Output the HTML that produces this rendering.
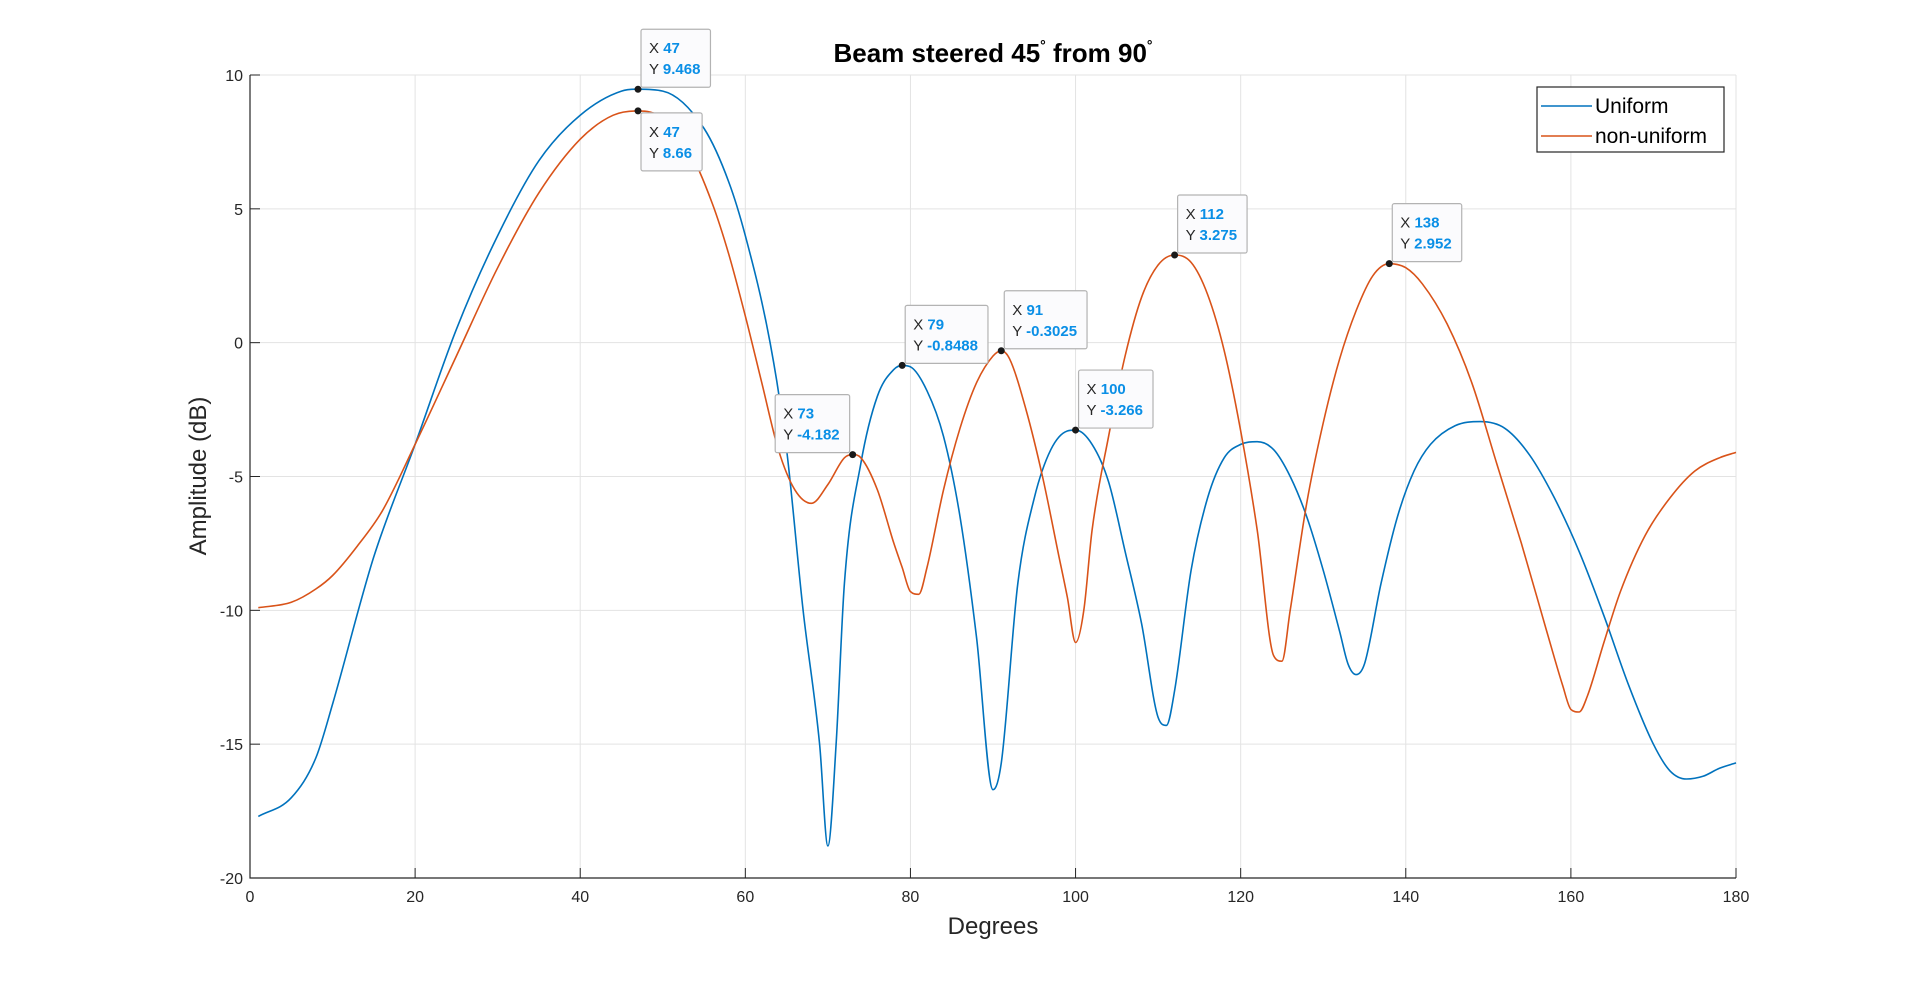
<!DOCTYPE html>
<html><head><meta charset="utf-8"><style>
html,body{margin:0;padding:0;background:#fff;}
svg{display:block;font-family:"Liberation Sans",sans-serif;}
</style></head><body>
<svg id="chart" width="1920" height="986" viewBox="0 0 1920 986">
<g id="grid"></g>
<g id="axes"></g>
<g id="series"></g>
<g id="tips"></g>
<text x="993" y="62" text-anchor="middle" font-size="26" font-weight="bold" fill="#000">Beam steered 45<tspan dy="-12" font-size="14">°</tspan><tspan dy="12"> from 90</tspan><tspan dy="-12" font-size="14">°</tspan></text>
<text x="993" y="934" text-anchor="middle" font-size="24" fill="#262626">Degrees</text>
<text transform="translate(206,476) rotate(-90)" text-anchor="middle" font-size="24" fill="#262626">Amplitude (dB)</text>
<g>
<rect x="1537" y="87" width="187" height="65" fill="#fff" stroke="#262626" stroke-width="1.2"/>
<g><line x1="1541" y1="106" x2="1592" y2="106" stroke="#0072BD" stroke-width="1.6"/><text x="1595" y="113" font-size="21" fill="#000">Uniform</text></g>
<g><line x1="1541" y1="136" x2="1592" y2="136" stroke="#D95319" stroke-width="1.6"/><text x="1595" y="143" font-size="21" fill="#000">non-uniform</text></g>
</g>
</svg>
<script>
const uniformX=[1,5,8,10,15,20,25,30,35,40,45,47,50,55,58,60,63,65,67,69,70,71,72,74,76,78,79,80,82,84,86,88,90,91,93,95,97,99,100,102,104,106,108,110,111,112,114,116,118,120,122,124,126,128,130,132,133,134,135,137,139,141,143,146,149,152,155,158,161,164,167,170,172,174,176,178,180];
const uniformY=[-17.7,-17,-15.5,-13.5,-8,-3.8,0.5,4,6.8,8.5,9.4,9.468,9.4,8,6,4,0,-4,-10,-15,-18.8,-15,-9,-4.5,-2,-1,-0.8488,-0.9,-1.8,-3.5,-6.5,-11,-16.7,-15.7,-9,-5.8,-4,-3.3,-3.266,-3.8,-5.2,-7.8,-10.5,-14,-14.3,-13,-8.5,-5.8,-4.3,-3.8,-3.7,-4,-5,-6.5,-8.5,-10.8,-12,-12.4,-12,-9,-6.5,-4.8,-3.8,-3.1,-2.95,-3.2,-4.2,-5.8,-7.8,-10.2,-12.8,-15,-16,-16.3,-16.2,-15.9,-15.7];
const nonUniformX=[1,5,8,10,13,16,20,25,30,35,40,44,47,50,53,56,58,60,62,64,66,68,70,72,73,74,76,78,79,80,81,82,84,86,88,90,91,92,94,96,98,99,100,101,102,104,106,108,110,112,114,116,118,120,122,124,125,126,128,130,132,134,136,138,140,142,145,148,151,154,157,159,160,161,162,164,166,169,172,175,178,180];
const nonUniformY=[-9.9,-9.7,-9.2,-8.7,-7.6,-6.3,-3.8,-0.5,2.8,5.6,7.6,8.5,8.66,8.4,7.3,5.2,3.3,1,-1.5,-4,-5.5,-6,-5.3,-4.3,-4.182,-4.3,-5.5,-7.5,-8.4,-9.3,-9.4,-8.4,-5.5,-3.2,-1.5,-0.5,-0.3025,-0.6,-2.5,-5,-8,-9.5,-11.2,-10,-7,-3.5,-0.5,1.7,2.9,3.275,3,1.8,-0.3,-3.3,-7,-11.7,-11.9,-10,-6,-3,-0.6,1.2,2.5,2.952,2.8,2.2,0.7,-1.5,-4.5,-7.5,-10.7,-12.8,-13.7,-13.8,-13.2,-11.2,-9.3,-7.2,-5.8,-4.8,-4.3,-4.1];
const xTicks=[0,20,40,60,80,100,120,140,160,180];
const yTicks=[-20,-15,-10,-5,0,5,10];
const tipX=[47,47,73,79,91,100,112,138];
const tipY=[9.468,8.66,-4.182,-0.8488,-0.3025,-3.266,3.275,2.952];
const tipLabel=['9.468','8.66','-4.182','-0.8488','-0.3025','-3.266','3.275','2.952'];
const tipPlace=['above','below','left','above','above','above','above','above'];

const X0=250,X1=1736,Y0=878,Y1=75;
const sx=v=>X0+(v-0)/(180-0)*(X1-X0);
const sy=v=>Y0-(v+20)/(30)*(Y0-Y1);
const NS='http://www.w3.org/2000/svg';
function mk(tag,attrs,parent){const e=document.createElementNS(NS,tag);for(const k in attrs)e.setAttribute(k,attrs[k]);parent.appendChild(e);return e;}
const grid=document.getElementById('grid'),axes=document.getElementById('axes'),series=document.getElementById('series'),tips=document.getElementById('tips');
xTicks.forEach(t=>{const x=sx(t);
 const g=mk('line',{x1:x,y1:Y1,x2:x,y2:Y0,stroke:'#e3e3e3','stroke-width':1},grid);
 
 
 const tk=mk('line',{x1:x,y1:Y0,x2:x,y2:Y0-10,stroke:'#262626','stroke-width':1},axes);
 
 
 const tl=mk('text',{x:x,y:Y0+24,'text-anchor':'middle','font-size':16,fill:'#262626'},axes);tl.textContent=t;
 
 
});
yTicks.forEach(t=>{const y=sy(t);
 const g=mk('line',{x1:X0,y1:y,x2:X1,y2:y,stroke:'#e3e3e3','stroke-width':1},grid);
 
 
 const tk=mk('line',{x1:X0,y1:y,x2:X0+10,y2:y,stroke:'#262626','stroke-width':1},axes);
 
 
 const tl=mk('text',{x:X0-7,y:y+6,'text-anchor':'end','font-size':16,fill:'#262626'},axes);tl.textContent=t;
 
 
});
const ax=mk('path',{d:`M${X0} ${Y1}V${Y0}H${X1}`,fill:'none',stroke:'#262626','stroke-width':1.2},axes);


function monoPath(px,py){
 const n=px.length,d=[],m=[];
 for(let i=0;i<n-1;i++)d.push((py[i+1]-py[i])/(px[i+1]-px[i]));
 m[0]=d[0];m[n-1]=d[n-2];
 for(let i=1;i<n-1;i++){m[i]=(d[i-1]*d[i]<=0)?0:(d[i-1]+d[i])/2;}
 for(let i=0;i<n-1;i++){if(d[i]===0){m[i]=0;m[i+1]=0;continue;}
  const a=m[i]/d[i],b=m[i+1]/d[i],s=a*a+b*b;if(s>9){const t=3/Math.sqrt(s);m[i]=t*a*d[i];m[i+1]=t*b*d[i];}}
 let p='M'+px[0].toFixed(1)+' '+py[0].toFixed(1);
 for(let i=0;i<n-1;i++){const h=(px[i+1]-px[i])/3;
  p+=`C${(px[i]+h).toFixed(1)} ${(py[i]+m[i]*h).toFixed(1)} ${(px[i+1]-h).toFixed(1)} ${(py[i+1]-m[i+1]*h).toFixed(1)} ${px[i+1].toFixed(1)} ${py[i+1].toFixed(1)}`;}
 return p;
}
function line(xs,ys,color,name){
 const p=mk('path',{d:monoPath(xs.map(sx),ys.map(sy)),fill:'none',stroke:color,'stroke-width':1.6,'stroke-linejoin':'round'},series);
 
 
}
line(uniformX,uniformY,'#0072BD','uniform-line');
line(nonUniformX,nonUniformY,'#D95319','non-uniform-line');
tipX.forEach((tx,i)=>{
 const px=sx(tx),py=sy(tipY[i]);
 const g=mk('g',{},tips);
 
 
 const r=mk('rect',{rx:2,fill:'#fbfbfd',stroke:'#b3b3b3','stroke-width':1.2},g);
 const t1=mk('text',{'font-size':15,fill:'#262626'},g);
 t1.innerHTML='X <tspan fill="#0a8fe6" font-weight="bold">'+tx+'</tspan>';
 const t2=mk('text',{'font-size':15,fill:'#262626'},g);
 t2.innerHTML='Y <tspan fill="#0a8fe6" font-weight="bold">'+tipLabel[i]+'</tspan>';
 const w=Math.max(t1.getComputedTextLength(),t2.getComputedTextLength())+18,h=58;
 let bx,by;
 if(tipPlace[i]==='above'){bx=px+3;by=py-2-h;}
 else if(tipPlace[i]==='below'){bx=px+3;by=py+2;}
 else{bx=px-3-w;by=py-2-h;}
 r.setAttribute('x',bx);r.setAttribute('y',by);r.setAttribute('width',w);r.setAttribute('height',h);
 t1.setAttribute('x',bx+8);t1.setAttribute('y',by+24);
 t2.setAttribute('x',bx+8);t2.setAttribute('y',by+45);
 const c=mk('circle',{cx:px,cy:py,r:3.5,fill:'#1a1a1a'},g);
 
 
});
</script>
</body></html>
